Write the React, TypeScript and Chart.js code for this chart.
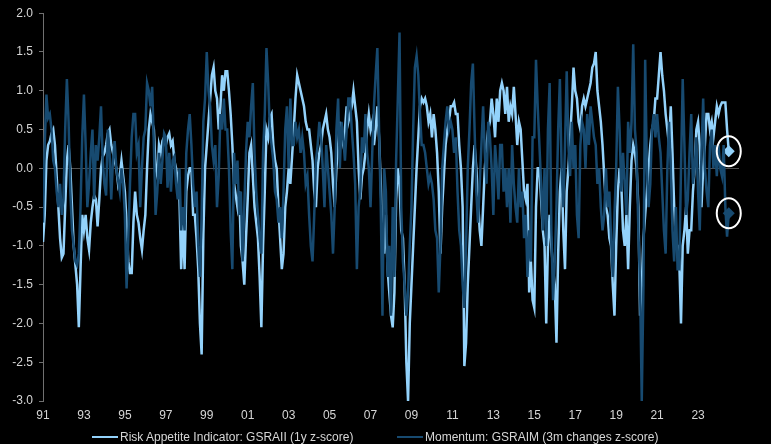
import { useEffect, useRef } from 'react';
import { Chart, registerables, Plugin } from 'chart.js';

Chart.register(...registerables);

// monthly readings, Jan 1991 .. Jul 2024
const START_YEAR = 1991;

const riskAppetite = [
  -0.95, -0.6, 0.1, 0.3, 0.35, 0.45, 0.5, 0.3, -0.1, -0.5, -0.9, -1.15, // 1991
  -1.1, -0.5, 0.1, 0.3, 0.0, -0.5, -1.0, -1.25, -1.5, -2.05, -1.3, -0.6, // 1992
  -0.8, -0.6, -0.9, -1.05, -0.7, -0.5, -0.35, -0.4, -0.75, -0.4, 0.0, 0.15, // 1993
  0.2, 0.3, 0.45, 0.5, 0.3, 0.2, 0.1, 0.0, -0.2, -0.1, 0.1, -0.1, // 1994
  -0.3, -0.7, -1.2, -1.35, -1.35, -0.7, -0.3, -0.6, -0.7, -0.9, -1.05, -0.8, // 1995
  -0.6, 0.0, 0.5, 0.7, 0.6, 0.5, 0.0, -0.1, 0.3, 0.2, 0.35, 0.4, // 1996
  0.3, 0.4, 0.45, 0.3, 0.35, 0.1, 0.0, -0.15, -0.4, -1.3, -0.7, -1.3, // 1997
  -0.3, -0.1, 0.0, 0.0, -0.6, -0.6, -0.9, -1.3, -2.0, -2.4, -0.85, 0.0, // 1998
  0.3, 0.6, 0.9, 1.2, 1.3, 1.0, 0.9, 0.5, 0.8, 1.2, 1.0, 1.25, // 1999
  1.25, 1.0, 0.7, 0.3, -0.2, -0.35, -0.5, -0.3, -1.0, -1.2, -1.5, -0.9, // 2000
  -0.4, 0.2, 0.3, -0.1, -0.5, -0.7, -0.9, -1.4, -2.05, -1.0, -0.3, 0.5, // 2001
  0.4, 0.65, 0.7, 0.3, 0.1, 0.0, -0.5, -0.9, -1.3, -1.1, -0.5, -0.3, // 2002
  0.0, -0.2, 0.15, 0.5, 0.9, 1.2, 1.1, 1.0, 0.9, 0.8, 0.6, 0.5, // 2003
  0.5, 0.3, 0.1, -0.3, -0.5, 0.0, 0.2, 0.3, 0.5, 0.6, 0.7, 0.5, // 2004
  0.4, 0.2, -0.2, -0.5, 0.0, 0.3, 0.6, 0.4, 0.3, 0.5, 0.8, 0.6, // 2005
  0.7, 0.8, 1.0, 0.8, 0.6, 0.0, -0.4, -0.1, 0.0, 0.2, 0.5, 0.7, // 2006
  0.5, 0.6, 0.3, 0.5, 0.8, 0.4, -0.2, -0.9, -1.1, -0.6, -1.3, -1.6, // 2007
  -1.9, -2.05, -1.6, -0.4, 0.0, -0.2, -0.8, -0.9, -1.5, -2.5, -3.0, -2.0, // 2008
  -1.5, -1.0, -0.5, 0.0, 0.4, 0.8, 0.9, 0.85, 0.9, 0.8, 0.6, 0.7, // 2009
  0.4, 0.7, 0.5, 0.2, -0.3, -1.1, -0.5, -0.1, 0.3, 0.5, 0.6, 0.8, // 2010
  0.8, 0.85, 0.7, 0.7, 0.3, 0.0, -0.5, -2.55, -2.25, -1.5, -1.0, -0.5, // 2011
  0.0, 0.3, 0.0, -0.4, -0.8, -1.0, -0.5, 0.0, 0.3, 0.5, 0.6, 0.9, // 2012
  0.7, 0.4, 0.9, 0.6, 1.0, 1.1, 1.0, 0.7, 1.05, 0.6, 0.8, 0.7, // 2013
  1.05, 0.7, 0.3, 0.6, 0.5, 0.1, -0.3, -0.4, -0.2, -1.6, -1.2, -1.7, // 2014
  -1.8, -0.5, 0.0, 0.0, -0.4, -0.8, -1.0, -2.0, -1.0, -0.6, -1.0, -1.3, // 2015
  -1.5, -2.25, -1.1, -0.3, 0.0, -0.8, -1.3, -0.3, 0.0, 0.4, 0.8, 1.3, // 2016
  1.0, 0.9, 0.6, 0.5, 0.8, 0.9, 0.8, 0.9, 1.0, 1.1, 1.3, 1.35, // 2017
  1.5, 1.0, 0.8, 0.6, 0.3, -0.1, -0.5, -0.6, -0.9, -1.0, -1.5, -1.9, // 2018
  -1.0, -0.3, 0.0, -0.2, -0.8, -1.0, -0.6, -1.3, -0.5, 0.1, 0.3, 0.2, // 2019
  0.0, -0.5, -1.9, -1.5, -0.9, -0.6, -0.3, 0.0, 0.3, 0.5, 0.6, 0.9, // 2020
  0.9, 1.2, 1.5, 1.2, 1.0, 0.7, 0.5, 0.3, 0.8, 0.2, -0.5, -1.0, // 2021
  -1.0, -1.2, -2.0, -1.0, -0.8, -0.5, -1.1, -0.8, -0.8, -0.3, 0.0, 0.5, // 2022
  0.6, 0.3, -0.5, 0.0, 0.3, 0.7, 0.7, 0.5, 0.6, 0.4, 0.6, 0.8, // 2023
  0.7, 0.8, 0.85, 0.85, 0.85, 0.5, 0.22, // 2024
];

const momentum = [
  -0.7, 0.3, 0.95, 0.65, 0.7, 0.5, 0.1, 0.0, -0.3, -0.5, -0.2, -0.6, // 1991
  -0.4, 0.5, 1.15, 0.6, -0.3, -0.8, -1.0, -1.2, -1.25, -1.1, -0.5, 0.4, // 1992
  0.95, 0.3, -0.5, -0.2, 0.2, 0.5, -0.4, 0.3, 0.1, 0.4, 0.8, 0.1, // 1993
  -0.2, -0.35, 0.5, 0.2, -0.4, 0.1, 0.35, 0.0, -0.15, -0.3, 0.0, -0.2, // 1994
  -0.6, -1.55, -0.9, -0.2, 0.4, 0.7, 0.7, 0.2, 0.3, -0.5, 0.0, 0.4, // 1995
  0.5, 1.1, 1.0, 0.8, 1.05, 0.3, -0.6, -0.3, 0.2, -0.2, 0.1, 0.45, // 1996
  0.4, -0.25, 0.2, -0.3, 0.1, 0.15, -0.2, -0.4, 0.0, -0.8, -0.5, -0.8, // 1997
  0.2, 0.5, 0.7, 0.3, -0.2, -0.5, -0.3, -1.0, -1.4, -0.6, 0.6, 0.9, // 1998
  1.5, 1.0, 0.8, 0.3, 0.1, 0.3, -0.5, -0.1, 0.7, 0.5, 0.9, 0.5, // 1999
  0.5, 0.0, -0.8, -1.3, 0.2, -0.2, 0.1, -0.6, -0.3, -1.2, -0.5, 0.2, // 2000
  0.6, 0.4, 0.8, 1.1, 0.2, -0.3, -0.6, -0.9, -1.1, 0.2, 0.7, 1.55, // 2001
  1.1, 0.5, 0.3, 0.1, -0.3, -0.4, -0.7, -0.5, -0.9, -0.3, 0.5, 0.8, // 2002
  0.0, 0.9, 0.3, 0.3, 0.6, 0.4, 0.5, 0.2, 0.4, 0.2, -0.2, -0.1, // 2003
  -0.6, -1.0, -1.2, -0.6, 0.1, 0.3, 0.6, 0.4, 0.0, -0.5, 0.3, 0.0, // 2004
  -0.3, -0.6, -1.1, -0.5, 0.5, 0.9, 0.0, 0.6, 0.4, 0.1, 0.5, 0.9, // 2005
  0.9, 0.5, 0.2, -0.2, -1.3, -0.5, -0.3, 0.4, 0.2, 0.7, 0.2, 0.0, // 2006
  -0.5, 0.2, 0.8, 1.2, 1.55, 0.5, -0.5, -1.9, 0.0, -0.3, -1.4, -1.0, // 2007
  -1.9, -0.5, -1.4, 0.1, 0.9, 1.75, -0.5, -1.2, -1.5, -1.9, -1.6, -1.0, // 2008
  -0.5, 0.5, 1.3, 1.45, 1.2, 0.7, 0.3, 0.3, 0.2, 0.0, -0.2, -0.1, // 2009
  -0.2, -0.4, -0.8, -0.9, -1.6, -1.0, 0.0, 0.3, 0.6, 0.8, 0.5, 0.6, // 2010
  0.5, 0.2, 0.4, -0.3, -0.8, -1.0, -1.5, -1.8, -1.0, 0.0, 0.5, 1.1, // 2011
  1.35, 0.5, -0.3, -0.7, -0.2, 0.3, 0.8, 0.2, -0.2, 0.6, 0.4, 0.0, // 2012
  -0.6, 0.3, 0.0, -0.4, 0.3, 0.3, -0.3, 0.0, -0.5, 0.0, -0.7, 0.3, // 2013
  -0.2, -0.5, -0.7, 0.0, -0.5, -0.3, -0.9, -0.6, -1.4, -0.8, -1.2, 0.4, // 2014
  0.4, 1.4, 0.8, 0.3, -0.2, -0.8, 0.0, -1.0, 0.5, 1.1, -0.8, -1.7, // 2015
  -1.2, -0.5, 0.5, 1.15, 0.0, -0.5, 0.3, 1.25, 0.3, -0.1, 0.6, 0.0, // 2016
  0.3, -0.6, -0.9, 0.3, 0.6, 0.5, 0.0, 0.7, 0.3, 0.8, 0.6, 0.4, // 2017
  0.3, -0.2, 0.0, -0.5, -0.8, -0.6, 0.0, -0.5, -0.3, -0.9, -1.4, -0.6, // 2018
  0.0, 1.05, 0.5, -0.3, 0.2, -0.2, -0.6, 0.6, 0.2, 0.6, 1.6, 0.5, // 2019
  0.2, -0.8, -1.5, -3.0, -1.5, 1.4, 0.0, -0.5, -0.2, 0.5, 0.7, 0.4, // 2020
  0.7, 0.4, 0.2, -0.3, -0.8, -1.1, 0.0, 0.6, 0.0, -0.8, -1.2, -0.5, // 2021
  -1.3, -1.3, 0.0, 1.15, 0.3, -0.6, -0.4, 0.2, 0.7, -0.2, 0.0, 0.4, // 2022
  -0.3, -0.8, 0.2, 0.9, 0.0, -0.3, -0.5, 0.3, 0.5, 0.0, 0.3, -0.1, // 2023
  0.3, 0.0, -0.1, 0.3, -0.5, -0.88, -0.58, // 2024
];

const tickYears = [1991, 1993, 1995, 1997, 1999, 2001, 2003, 2005, 2007, 2009, 2011, 2013, 2015, 2017, 2019, 2021, 2023];

const LIGHT = '#93d2fb';
const DARK = '#174a70';
const TEXT = '#d6d6d6';
const FONT = 'Arial, "Liberation Sans", sans-serif';

const toPoints = (vals: number[]) => vals.map((y, i) => ({ x: START_YEAR + i / 12, y }));

// white rings round the latest readings
const endRings: Plugin<'line'> = {
  id: 'endRings',
  afterDatasetsDraw(chart) {
    const { ctx } = chart;
    chart.data.datasets.forEach((_, i) => {
      const pts = chart.getDatasetMeta(i).data;
      const last = pts[pts.length - 1];
      if (!last) return;
      ctx.save();
      ctx.strokeStyle = '#fff';
      ctx.lineWidth = 2;
      ctx.beginPath();
      ctx.ellipse(last.x, last.y, 12, 15, 0, 0, Math.PI * 2);
      ctx.stroke();
      ctx.restore();
    });
  },
};

function lastOnly(n: number) {
  return (c: any) => (c.dataIndex === n - 1 ? 6 : 0);
}

export default function App() {
  const canvasRef = useRef<HTMLCanvasElement>(null);

  useEffect(() => {
    if (!canvasRef.current) return;
    document.body.style.background = '#000';

    const chart = new Chart(canvasRef.current, {
      type: 'line',
      data: {
        datasets: [
          {
            label: 'Risk Appetite Indicator: GSRAII (1y z-score)',
            data: toPoints(riskAppetite),
            borderColor: LIGHT,
            backgroundColor: LIGHT,
            borderWidth: 2.5,
            pointStyle: 'rectRot',
            pointRadius: lastOnly(riskAppetite.length),
            pointBorderWidth: 0,
            order: 1,
          },
          {
            label: 'Momentum: GSRAIM (3m changes z-score)',
            data: toPoints(momentum),
            borderColor: DARK,
            backgroundColor: DARK,
            borderWidth: 2.5,
            pointStyle: 'rectRot',
            pointRadius: lastOnly(momentum.length),
            pointBorderWidth: 0,
            order: 0,
          },
        ],
      },
      options: {
        responsive: false,
        animation: false,
        layout: { padding: { top: 7, right: 32, bottom: 21, left: 0 } },
        plugins: {
          legend: { display: false },
          tooltip: { enabled: false },
        },
        scales: {
          x: {
            type: 'linear',
            min: 1991,
            max: 2025,
            afterBuildTicks: (scale) => {
              scale.ticks = tickYears.map((v) => ({ value: v }));
            },
            afterFit: (scale) => {
              scale.height = 22;
            },
            ticks: {
              color: TEXT,
              font: { family: FONT, size: 12 },
              padding: 7,
              maxRotation: 0,
              autoSkip: false,
              callback: (v) => String(Number(v) % 100).padStart(2, '0'),
            },
            grid: { display: false, drawTicks: false },
            border: { display: false },
          },
          y: {
            min: -3,
            max: 2,
            afterFit: (scale) => {
              scale.width = 43;
            },
            ticks: {
              stepSize: 0.5,
              color: TEXT,
              font: { family: FONT, size: 12 },
              padding: 6,
              callback: (v) => Number(v).toFixed(1),
            },
            grid: {
              color: (c) => (c.tick && c.tick.value === 0 ? '#505050' : 'transparent'),
              tickColor: '#707070',
              tickLength: 4,
              lineWidth: 1,
            },
            border: { display: true, color: '#707070', width: 1 },
          },
        },
      },
      plugins: [endRings],
    });

    return () => chart.destroy();
  }, []);

  const legendText: React.CSSProperties = {
    color: TEXT,
    fontFamily: FONT,
    fontSize: 12,
    whiteSpace: 'nowrap',
  };
  const legendItem = (left: number, color: string, text: string) => (
    <div style={{ position: 'absolute', left, top: 429, height: 15, display: 'flex', alignItems: 'center' }}>
      <span style={{ display: 'inline-block', width: 26, height: 2, background: color, marginRight: 2 }} />
      <span style={legendText}>{text}</span>
    </div>
  );

  return (
    <div style={{ position: 'absolute', left: 0, top: 0, width: 771, height: 444, background: '#000', overflow: 'hidden' }}>
      <canvas ref={canvasRef} width={771} height={444} style={{ position: 'absolute', left: 0, top: 0 }} />
      {legendItem(92, LIGHT, 'Risk Appetite Indicator: GSRAII (1y z-score)')}
      {legendItem(397, DARK, 'Momentum: GSRAIM (3m changes z-score)')}
    </div>
  );
}
